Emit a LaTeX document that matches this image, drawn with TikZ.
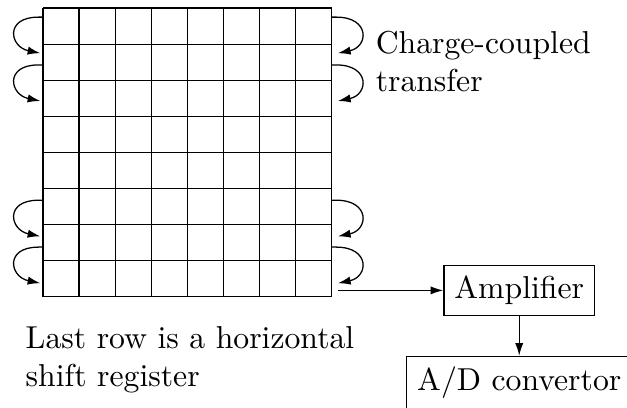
\documentclass[tikz,border=0pt]{standalone}
\usetikzlibrary{arrows.meta,positioning}

\begin{document}
\begin{tikzpicture}[
    box/.style={rectangle, draw},
    arrow/.style={-{Latex[length=4pt,width=2.6pt]}},
    label/.style={align=left, anchor=north west}
]
\useasboundingbox (-0.477,-1.231) rectangle (6.475,3.29);

% the pixel array
\draw[step=0.4] (0,0) grid (3.2,3.2);

% charge-coupled transfer between rows
\foreach \a/\b in {3.1/2.7, 2.57/2.17, 1.07/0.67, 0.55/0.15} {
    \draw[arrow] (0,\a) -- ++(-0.05,0) .. controls +(-0.38,0) and +(-0.34,0.07) .. (-0.03,\b);
    \draw[arrow] (3.2,\a) -- ++(0.05,0) .. controls +(0.38,0) and +(0.34,0.07) .. (3.27,\b);
}

\node[label] (ccd) at (3.565,3.065) {Charge-coupled\\transfer};
\node[label] (note) at (-0.316,-0.207) {Last row is a horizontal\\shift register};

\coordinate (out) at (3.27,0.07);
\node[box] (amp) at (5.28,0.07) {Amplifier};
\node[box, below=0.44cm of amp] (adc) {A/D convertor};

\draw[arrow] (out) -- (amp);
\draw[arrow] (amp) -- (adc);
\end{tikzpicture}
\end{document}
